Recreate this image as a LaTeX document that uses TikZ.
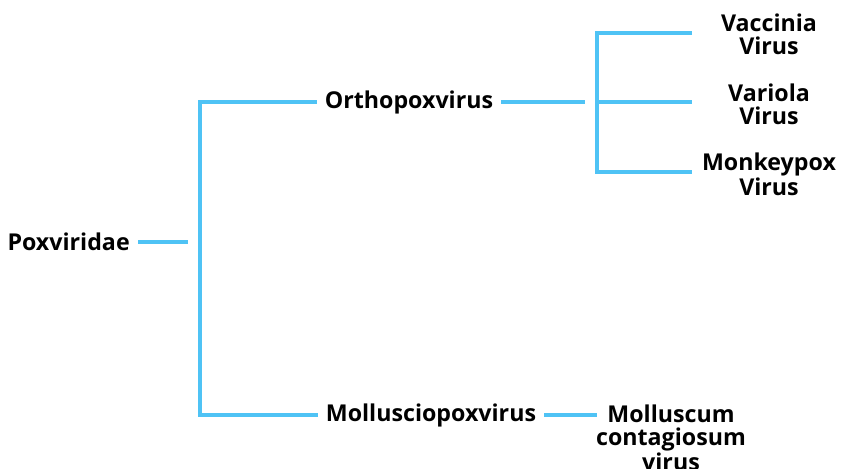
\documentclass[tikz,border=0pt]{standalone}
\usepackage{fontspec}
\setmainfont{Open Sans}
\definecolor{astblau}{RGB}{79,195,245}

\begin{document}
\begin{tikzpicture}[x=0.025cm, y=-0.025cm,
	ast/.style={draw=astblau, line width=2.2pt},
	taxon/.style={font=\fontsize{16.5}{16.4}\selectfont\bfseries, inner sep=0.2cm},
	blatt/.style={taxon, align=center, inner sep=0pt}]
	\useasboundingbox (0,0) rectangle (842,468);
	
	% Familie links
	\node[taxon, anchor=east] (pox) at (138,242) {Poxviridae};
	
	% Gattungen in der Mitte
	\node[taxon] (ortho) at (409,102) {Orthopoxvirus};
	\node[taxon] (mollus) at (431,415) {Mollusciopoxvirus};
	
	% Arten rechts
	\node[blatt] (vacc) at (769,34) {Vaccinia\\Virus};
	\node[blatt] (vario) at (769,104) {Variola\\Virus};
	\node[blatt] (monkey) at (769,174) {Monkeypox\\Virus};
	\node[blatt, anchor=north] (mcv) at (671,405) {Molluscum\\contagiosum\\virus};
	
	% Knotenpunkte der Klammern
	\coordinate (pox_ende) at (188,242);
	\coordinate (a_oben) at (200,102);
	\coordinate (a_unten) at (200,415);
	\coordinate (ortho_ende) at (585,102);
	\coordinate (b_oben) at (597,33);
	\coordinate (b_mitte) at (597,102);
	\coordinate (b_unten) at (597,172);
	\coordinate (vacc_ende) at (692,33);
	\coordinate (vario_ende) at (692,102);
	\coordinate (monkey_ende) at (692,172);
	\coordinate (mcv_ende) at (597,415);
	
	% Zeichnet linke Klammer
	\draw[ast] (pox.east) -- (pox_ende);
	\draw[ast] (ortho.west) -- (a_oben) -- (a_unten) -- (mollus.west);
	
	% Zeichnet rechte Klammer
	\draw[ast] (ortho.east) -- (ortho_ende);
	\draw[ast] (vacc_ende) -- (b_oben) -- (b_unten) -- (monkey_ende);
	\draw[ast] (b_mitte) -- (vario_ende);
	
	% Zeichnet Linie zum Molluscum
	\draw[ast] (mollus.east) -- (mcv_ende);
	
\end{tikzpicture}
\end{document}
